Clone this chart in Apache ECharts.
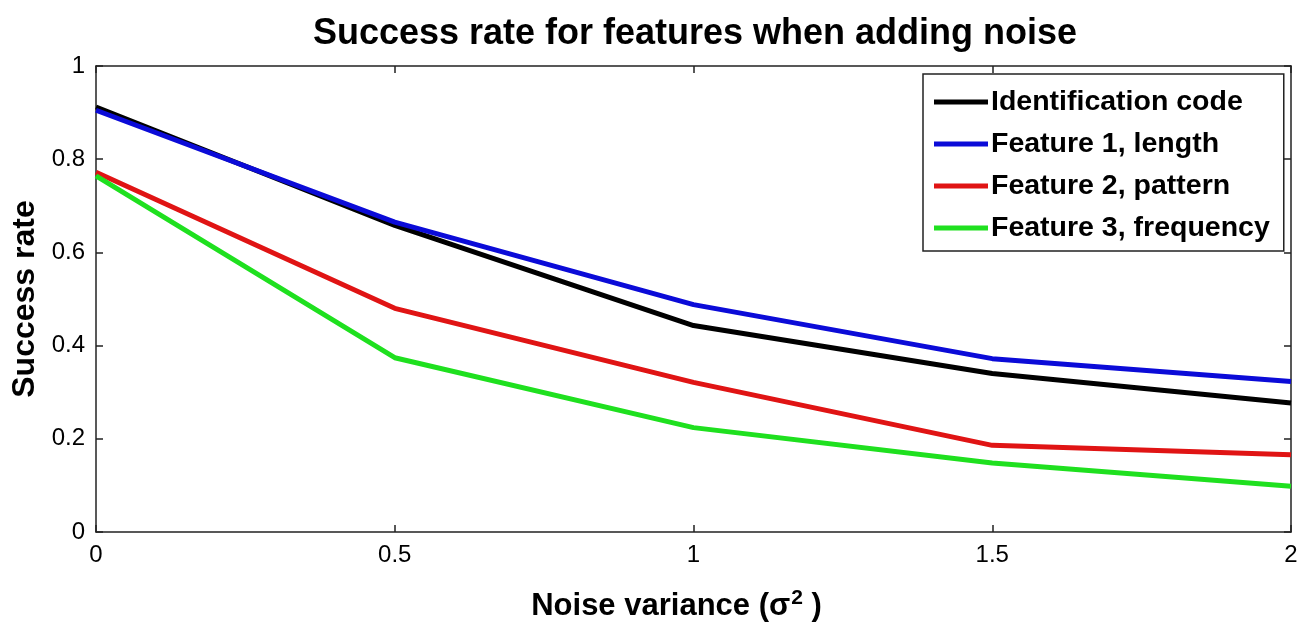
<!DOCTYPE html>
<html>
<head>
<meta charset="utf-8">
<script src="https://cdn.jsdelivr.net/npm/echarts@6/dist/echarts.min.js"></script>
<style>
  html, body { margin: 0; padding: 0; background: #fff; }
  #chart { width: 1309px; height: 627px; }
</style>
</head>
<body>
<div id="chart"></div>
<script>
// Noise variance levels (sigma^2)
const noiseVariance = [0, 0.5, 1, 1.5, 2];

// Success rate per feature at each noise level
const identificationCode = [0.912, 0.658, 0.443, 0.340, 0.277];
const feature1Length     = [0.905, 0.665, 0.488, 0.372, 0.323];
const feature2Pattern    = [0.772, 0.480, 0.321, 0.186, 0.166];
const feature3Frequency  = [0.764, 0.374, 0.224, 0.148, 0.098];

const seriesNames = [
  'Identification code',
  'Feature 1, length',
  'Feature 2, pattern',
  'Feature 3, frequency'
];
const seriesColors = ['#000000', '#0b0bd8', '#e01414', '#1fe01f'];
const seriesValues = [identificationCode, feature1Length, feature2Pattern, feature3Frequency];

const FONT = '"Liberation Sans", Arial, Helvetica, sans-serif';

function pairs(values) {
  return noiseVariance.map((x, i) => [x, values[i]]);
}

const frameAxis = {
  axisLine: { show: true, onZero: false, lineStyle: { color: '#222', width: 1.5 } },
  axisTick: { show: true, inside: true, length: 7, lineStyle: { color: '#222', width: 1.5 } },
  splitLine: { show: false }
};

const chart = echarts.init(document.getElementById('chart'), null, { renderer: 'canvas' });

chart.setOption({
  backgroundColor: '#ffffff',
  animation: false,
  title: {
    text: 'Success rate for features when adding noise',
    left: 690,
    textAlign: 'center',
    top: 11,
    textStyle: {
      fontFamily: FONT,
      fontWeight: 'bold',
      fontSize: 36,
      color: '#000'
    }
  },
  grid: { left: 96, right: 18, top: 66, bottom: 94, containLabel: false },
  legend: {
    orient: 'vertical',
    left: 923,
    top: 74,
    padding: [13, 14, 8, 11],
    backgroundColor: '#ffffff',
    borderColor: '#222',
    borderWidth: 1.5,
    borderRadius: 0,
    icon: 'rect',
    itemWidth: 54,
    itemHeight: 5,
    itemGap: 12,
    textStyle: {
      fontFamily: FONT,
      fontWeight: 'bold',
      fontSize: 28.5,
      lineHeight: 30,
      color: '#000',
      padding: [0, 0, 0, -2]
    },
    data: seriesNames
  },
  xAxis: [
    Object.assign({
      type: 'value',
      min: 0,
      max: 2,
      interval: 0.5,
      position: 'bottom',
      axisLabel: {
        show: true,
        margin: 11,
        fontFamily: FONT,
        fontSize: 24,
        color: '#000',
        formatter: v => String(v)
      },
      name: '{t|Noise variance (σ}{s|2}{t| )}',
      nameLocation: 'middle',
      nameGap: 56,
      nameTextStyle: {
        padding: [0, 34, 0, 0],
        rich: {
          t: { fontFamily: FONT, fontWeight: 'bold', fontSize: 31, color: '#000' },
          s: { fontFamily: FONT, fontWeight: 'bold', fontSize: 21, color: '#000', verticalAlign: 'top', padding: [0, 0, 16, 1] }
        }
      }
    }, frameAxis),
    Object.assign({
      type: 'value',
      min: 0,
      max: 2,
      interval: 0.5,
      position: 'top',
      axisLabel: { show: false }
    }, frameAxis)
  ],
  yAxis: [
    Object.assign({
      type: 'value',
      min: 0,
      max: 1,
      interval: 0.2,
      position: 'left',
      axisLabel: {
        show: true,
        margin: 11,
        fontFamily: FONT,
        fontSize: 24,
        color: '#000',
        formatter: v => String(Math.round(v * 10) / 10)
      },
      name: 'Success rate',
      nameLocation: 'middle',
      nameRotate: 90,
      nameGap: 53,
      nameTextStyle: { fontFamily: FONT, fontWeight: 'bold', fontSize: 32, color: '#000' }
    }, frameAxis),
    Object.assign({
      type: 'value',
      min: 0,
      max: 1,
      interval: 0.2,
      position: 'right',
      axisLabel: { show: false }
    }, frameAxis)
  ],
  series: seriesNames.map((name, i) => ({
    name: name,
    type: 'line',
    xAxisIndex: 0,
    yAxisIndex: 0,
    data: pairs(seriesValues[i]),
    symbol: 'none',
    lineStyle: { color: seriesColors[i], width: 5 },
    itemStyle: { color: seriesColors[i] },
    z: 2 + i
  }))
});
</script>
</body>
</html>
